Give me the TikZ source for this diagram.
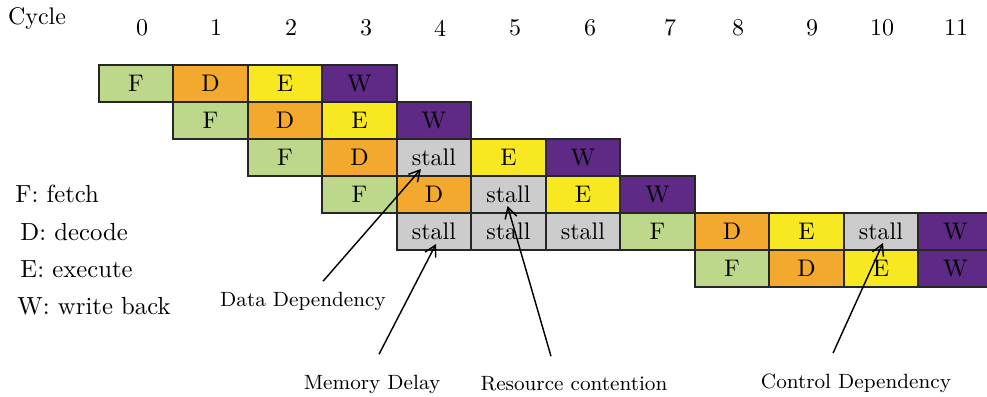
\documentclass[tikz,border=0pt]{standalone}
\usetikzlibrary{calc,arrows.meta}
\definecolor{fcol}{RGB}{189,215,139}
\definecolor{dcol}{RGB}{243,168,46}
\definecolor{ecol}{RGB}{247,232,34}
\definecolor{wcol}{RGB}{95,42,134}
\definecolor{scol}{RGB}{204,204,204}
\begin{document}
\begin{tikzpicture}[x=0.4167pt,y=-0.4167pt,
  cell/.style={draw=black!85,line width=0.7pt,minimum width=31.05pt,minimum height=15.42pt,inner sep=0pt},
  fetch/.style={cell,fill=fcol},
  decode/.style={cell,fill=dcol},
  exec/.style={cell,fill=ecol},
  wback/.style={cell,fill=wcol},
  stallbox/.style={cell,fill=scol},
  legend/.style={anchor=west,font=\fontsize{10.3}{12}\selectfont},
  note/.style={font=\fontsize{8.6}{10}\selectfont},
  pointer/.style={-{Straight Barb[length=4.5pt,width=5pt]},line width=0.6pt}]
\useasboundingbox (0,0) rectangle (987,396);

% cycle header
\node (cyc) at (37,18) {Cycle};
\foreach \i/\x in {0/142,1/216,2/291,3/366,4/440,5/515,6/590,7/670,8/738,9/812,10/882,11/956}
  \node (n\i) at (\x,28) {\i};

% pipeline cells: row/column/stage/text
\foreach \r/\c/\k/\t in {
  0/0/fetch/F, 0/1/decode/D, 0/2/exec/E, 0/3/wback/W,
  1/1/fetch/F, 1/2/decode/D, 1/3/exec/E, 1/4/wback/W,
  2/2/fetch/F, 2/3/decode/D, 2/4/stallbox/stall, 2/5/exec/E, 2/6/wback/W,
  3/3/fetch/F, 3/4/decode/D, 3/5/stallbox/stall, 3/6/exec/E, 3/7/wback/W,
  4/4/stallbox/stall, 4/5/stallbox/stall, 4/6/stallbox/stall, 4/7/fetch/F,
  4/8/decode/D, 4/9/exec/E, 4/10/stallbox/stall, 4/11/wback/W,
  5/8/fetch/F, 5/9/decode/D, 5/10/exec/E, 5/11/wback/W}
  \node[\k] (r\r-\c) at ({136+74.5*\c},{83.5+37*\r}) {\t};

% legend
\node[legend] (lf) at (7,194) {F: fetch};
\node[legend] (ld) at (12,232) {D: decode};
\node[legend] (le) at (12,269) {E: execute};
\node[legend] (lw) at (9,306) {W: write back};

% causes of the stalls
\node[note] (dd) at (303,301) {Data Dependency};
\node[note] (md) at (372,384) {Memory Delay};
\node[note] (rc) at (574,384) {Resource contention};
\node[note] (cd) at (856,383) {Control Dependency};

\coordinate (ddtip) at ($(r2-4.center)+(-13,11.5)$);
\coordinate (mdtip) at ($(r4-4.center)+(2,12.5)$);
\coordinate (rctip) at ($(r3-5.center)+(-1,11.5)$);
\coordinate (cdtip) at ($(r4-10.center)+(2,11.5)$);

\draw[pointer] ($(dd.north)+(20,-2)$) -- (ddtip);
\draw[pointer] ($(md.north)+(7,-12)$) -- (mdtip);
\draw[pointer] ($(rc.north)+(-23,-12)$) -- (rctip);
\draw[pointer] ($(cd.north)+(-23,-12)$) -- (cdtip);
\end{tikzpicture}
\end{document}
